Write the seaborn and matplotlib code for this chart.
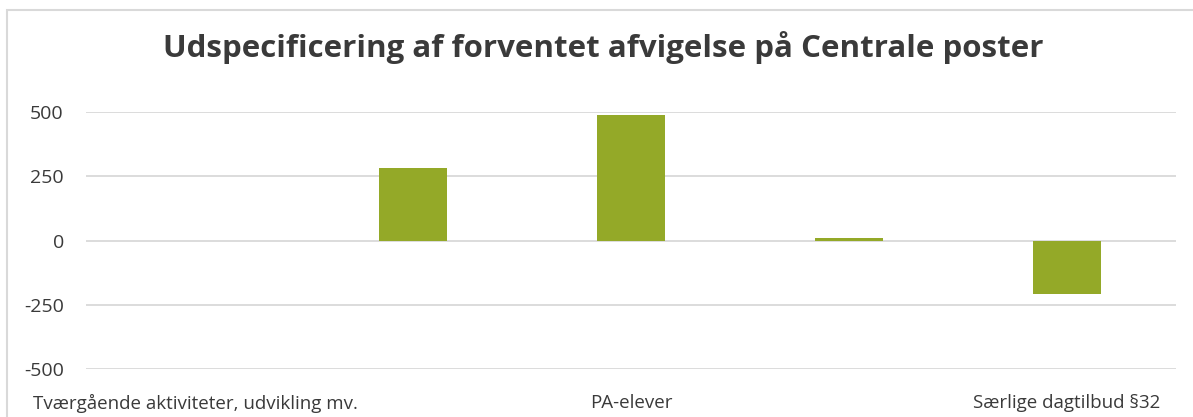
import numpy as np
import pandas as pd
import seaborn as sns
import matplotlib.pyplot as plt
from matplotlib.patches import Rectangle

# Data
categories = ["Tværgående aktiviteter, udvikling mv.", "Post 2", "PA-elever", "Post 4", "Særlige dagtilbud §32"]
tick_labels = ["Tværgående aktiviteter, udvikling mv.", "", "PA-elever", "", "Særlige dagtilbud §32"]
values = [0, 283, 488, 8, -210]
y_ticks = [-500, -250, 0, 250, 500]

df = pd.DataFrame({"post": categories, "afvigelse": values})

sns.set_theme(style="white")
plt.rcParams['font.family'] = ['Open Sans', 'DejaVu Sans']

text_col = "#3a3a3a"
bar_col = "#94a928"
grid_col = "#d9d9d9"

fig = plt.figure(figsize=(11.93, 4.17), dpi=100)
ax = fig.add_axes([0.0721, 0.1151, 0.9137, 0.6163])

sns.barplot(data=df, x="post", y="afvigelse", color=bar_col, width=0.31,
            saturation=1, linewidth=0, ax=ax, zorder=3)

ax.set_ylim(-500, 500)
ax.set_yticks(y_ticks)
ax.set_yticklabels([str(t) for t in y_ticks], fontsize=14, color=text_col)
ax.set_xticks(range(len(categories)))
ax.set_xticklabels(tick_labels, fontsize=13.5, color=text_col)
ax.set_xlim(-0.5, len(categories) - 0.5)
ax.set_xlabel("")
ax.set_ylabel("")
ax.tick_params(axis="y", length=0, pad=16)
ax.tick_params(axis="x", length=0, pad=18)
ax.yaxis.grid(True, color=grid_col, linewidth=1.3, zorder=0)
ax.set_axisbelow(True)
for s in ax.spines.values():
    s.set_visible(False)

fig.text(0.506, 0.885, "Udspecificering af forventet afvigelse på Centrale poster",
         ha="center", va="center", fontsize=22.5, fontweight="bold", color=text_col)

# light border of the chart area
fig.patches.append(Rectangle((7 / 1193, -0.1), 1.2, 1 - 10 / 417 + 0.1,
                             transform=fig.transFigure, fill=False,
                             edgecolor=grid_col, linewidth=1.5))

fig.savefig("out.png", dpi=100)
